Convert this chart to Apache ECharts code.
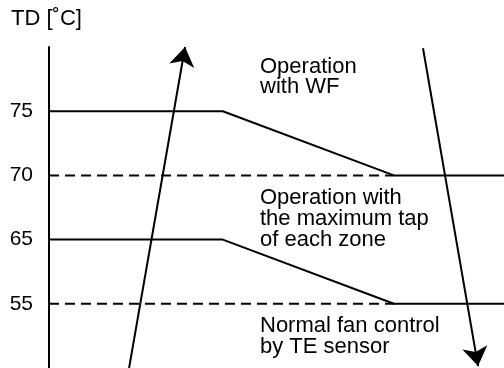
<!DOCTYPE html>
<html>
<head>
<meta charset="utf-8">
<script src="https://cdn.jsdelivr.net/npm/echarts@6/dist/echarts.min.js"></script>
<style>
  html, body { margin: 0; padding: 0; background: #fff; }
  #main { width: 504px; height: 368px; }
</style>
</head>
<body>
<div id="main"></div>
<script>
// y levels (equal spacing) and their tick labels
var levels = [1, 2, 3, 4];
var tickLabels = ['55', '65', '70', '75'];

// x is 0..100 across the plot
var upperLine = [[0, 4], [38.2, 4], [75.8, 3], [100, 3]];
var lowerLine = [[0, 2], [38.2, 2], [75.8, 1], [100, 1]];
var dash70 = [[0, 3], [75.8, 3]];
var dash55 = [[0, 1], [75.8, 1]];

// arrows: [from, to]
var arrowUp = [[17.6, 0.0], [29.9, 5.0]];
var arrowDown = [[82.2, 4.98], [94.3, 0.03]];

var zoneTexts = ['Operation\nwith WF', 'Operation with\nthe maximum tap\nof each zone', 'Normal fan control\nby TE sensor'];

var chart = echarts.init(document.getElementById('main'));

var font = 'Liberation Sans, Arial, Helvetica, sans-serif';

function solid(data) {
	return {
		type: 'line',
		data: data,
		symbol: 'none',
		silent: true,
		lineStyle: { color: '#000', width: 2 }
	};
}

function dashed(data) {
	return {
		type: 'line',
		data: data,
		symbol: 'none',
		silent: true,
		lineStyle: { color: '#000', width: 2, type: [10, 6] }
	};
}

function zone(text, top, lh) {
	return {
		type: 'text',
		left: 260,
		top: top,
		style: { text: text, fontSize: 22, lineHeight: lh, fontFamily: font, fill: '#000' }
	};
}

chart.setOption({
	animation: false,
	grid: { left: 49, right: 0, top: 47, bottom: -1 },
	xAxis: {
		type: 'value',
		min: 0,
		max: 100,
		show: false
	},
	yAxis: {
		type: 'value',
		min: 0,
		max: 5,
		interval: 1,
		axisLine: { show: true, lineStyle: { color: '#000', width: 2 } },
		axisTick: { show: false },
		splitLine: { show: false },
		axisLabel: {
			margin: 16,
			color: '#000',
			fontSize: 21,
			fontFamily: font,
			formatter: function (v) {
				var i = levels.indexOf(v);
				return i >= 0 ? tickLabels[i] : '';
			}
		}
	},
	graphic: [
		{ type: 'text', left: 11, top: 8, style: { text: 'TD [˚C]', fontSize: 22, fontFamily: font, fill: '#000' } },
		zone(zoneTexts[0], 56, 20),
		zone(zoneTexts[1], 187, 21),
		zone(zoneTexts[2], 315, 21)
	],
	series: [
		dashed(dash70),
		dashed(dash55),
		solid(upperLine),
		solid(lowerLine),
		{
			type: 'lines',
			coordinateSystem: 'cartesian2d',
			silent: true,
			symbol: ['none', 'arrow'],
			symbolSize: [11, 19],
			lineStyle: { color: '#000', width: 2, opacity: 1 },
			data: [
				{ coords: arrowUp },
				{ coords: arrowDown }
			]
		}
	]
});
</script>
</body>
</html>
